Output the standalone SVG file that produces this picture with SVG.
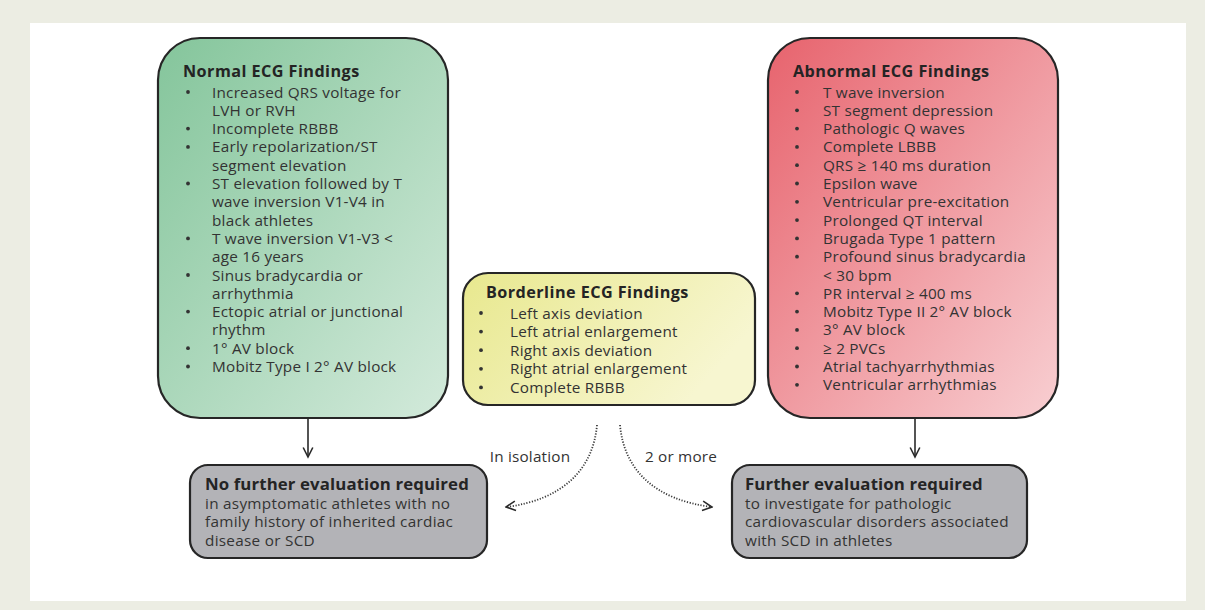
<svg xmlns="http://www.w3.org/2000/svg" width="1205" height="610" viewBox="0 0 1205 610">
  <defs>
    <linearGradient id="gGreen" x1="0" y1="0" x2="1" y2="1">
      <stop offset="0" stop-color="#84c59b"/>
      <stop offset="1" stop-color="#d3eadb"/>
    </linearGradient>
    <linearGradient id="gRed" x1="0" y1="0" x2="1" y2="1">
      <stop offset="0" stop-color="#e7636d"/>
      <stop offset="1" stop-color="#f8cfd2"/>
    </linearGradient>
    <linearGradient id="gYellow" x1="0" y1="0" x2="1" y2="0.4">
      <stop offset="0" stop-color="#e8e88e"/>
      <stop offset="1" stop-color="#f7f6d0"/>
    </linearGradient>
    <marker id="chev" viewBox="0 0 12 12" refX="10.5" refY="6" markerWidth="12" markerHeight="12" markerUnits="userSpaceOnUse" orient="auto">
      <path d="M1,1.2 L10.5,6 L1,10.8" fill="none" stroke="#2a2a2a" stroke-width="1.6"/>
    </marker>
  </defs>
  <style>
    .box { stroke: #262626; stroke-width: 2.2; }
    .ttl { font-family: "Open Sans", "Liberation Sans", sans-serif; font-weight: 700; font-size: 16.2px; letter-spacing: 0.45px; fill: #242424; }
    .txt { font-family: "Open Sans", "Liberation Sans", sans-serif; font-size: 15.3px; letter-spacing: 0.22px; fill: #333333; }
    .gtxt { font-family: "Open Sans", "Liberation Sans", sans-serif; font-size: 15.3px; letter-spacing: 0.28px; fill: #333333; }
    .gttl { font-family: "Open Sans", "Liberation Sans", sans-serif; font-weight: 700; font-size: 16.8px; letter-spacing: 0.12px; fill: #242424; }
    .lbl { font-family: "Open Sans", "Liberation Sans", sans-serif; font-size: 15.3px; letter-spacing: 0.2px; fill: #333333; }
    .dot { fill: #333333; }
    .solid { fill: none; stroke: #2a2a2a; stroke-width: 1.6; }
    .dotted { fill: none; stroke: #3a3a3a; stroke-width: 1.8; stroke-dasharray: 1.2 1.6; }
  </style>

  <!-- page frame -->
  <rect x="0" y="0" width="1205" height="610" fill="#ecede3"/>
  <rect x="30" y="23" width="1156" height="578" fill="#ffffff"/>

  <!-- normal findings -->
  <g id="normal">
    <rect class="box" x="158" y="38" width="290" height="380" rx="42" fill="url(#gGreen)"/>
    <text class="ttl" x="183" y="77">Normal ECG Findings</text>
    <g class="dot">
      <circle cx="188" cy="92" r="1.9"/>
      <circle cx="188" cy="128.6" r="1.9"/>
      <circle cx="188" cy="146.9" r="1.9"/>
      <circle cx="188" cy="183.5" r="1.9"/>
      <circle cx="188" cy="238.4" r="1.9"/>
      <circle cx="188" cy="275" r="1.9"/>
      <circle cx="188" cy="311.6" r="1.9"/>
      <circle cx="188" cy="348.2" r="1.9"/>
      <circle cx="188" cy="366.5" r="1.9"/>
    </g>
    <text class="txt" x="212" y="97.5">
      <tspan x="212">Increased QRS voltage for</tspan>
      <tspan x="212" dy="18.3">LVH or RVH</tspan>
      <tspan x="212" dy="18.3">Incomplete RBBB</tspan>
      <tspan x="212" dy="18.3">Early repolarization/ST</tspan>
      <tspan x="212" dy="18.3">segment elevation</tspan>
      <tspan x="212" dy="18.3">ST elevation followed by T</tspan>
      <tspan x="212" dy="18.3">wave inversion V1-V4 in</tspan>
      <tspan x="212" dy="18.3">black athletes</tspan>
      <tspan x="212" dy="18.3">T wave inversion V1-V3 &lt;</tspan>
      <tspan x="212" dy="18.3">age 16 years</tspan>
      <tspan x="212" dy="18.3">Sinus bradycardia or</tspan>
      <tspan x="212" dy="18.3">arrhythmia</tspan>
      <tspan x="212" dy="18.3">Ectopic atrial or junctional</tspan>
      <tspan x="212" dy="18.3">rhythm</tspan>
      <tspan x="212" dy="18.3">1° AV block</tspan>
      <tspan x="212" dy="18.3">Mobitz Type I 2° AV block</tspan>
    </text>
  </g>

  <!-- borderline findings -->
  <g id="borderline">
    <rect class="box" x="463" y="273" width="292" height="132" rx="25" fill="url(#gYellow)"/>
    <text class="ttl" x="486" y="298">Borderline ECG Findings</text>
    <g class="dot">
      <circle cx="481" cy="313" r="1.9"/>
      <circle cx="481" cy="331.6" r="1.9"/>
      <circle cx="481" cy="350.2" r="1.9"/>
      <circle cx="481" cy="368.8" r="1.9"/>
      <circle cx="481" cy="387.4" r="1.9"/>
    </g>
    <text class="txt" x="510" y="318.5">
      <tspan x="510">Left axis deviation</tspan>
      <tspan x="510" dy="18.6">Left atrial enlargement</tspan>
      <tspan x="510" dy="18.6">Right axis deviation</tspan>
      <tspan x="510" dy="18.6">Right atrial enlargement</tspan>
      <tspan x="510" dy="18.6">Complete RBBB</tspan>
    </text>
  </g>

  <!-- abnormal findings -->
  <g id="abnormal">
    <rect class="box" x="768" y="38" width="290" height="380" rx="42" fill="url(#gRed)"/>
    <text class="ttl" x="793" y="77">Abnormal ECG Findings</text>
    <g class="dot">
      <circle cx="797" cy="92" r="1.9"/>
      <circle cx="797" cy="110.3" r="1.9"/>
      <circle cx="797" cy="128.6" r="1.9"/>
      <circle cx="797" cy="146.9" r="1.9"/>
      <circle cx="797" cy="165.2" r="1.9"/>
      <circle cx="797" cy="183.5" r="1.9"/>
      <circle cx="797" cy="201.8" r="1.9"/>
      <circle cx="797" cy="220.1" r="1.9"/>
      <circle cx="797" cy="238.4" r="1.9"/>
      <circle cx="797" cy="256.7" r="1.9"/>
      <circle cx="797" cy="293.3" r="1.9"/>
      <circle cx="797" cy="311.6" r="1.9"/>
      <circle cx="797" cy="329.9" r="1.9"/>
      <circle cx="797" cy="348.2" r="1.9"/>
      <circle cx="797" cy="366.5" r="1.9"/>
      <circle cx="797" cy="384.8" r="1.9"/>
    </g>
    <text class="txt" x="823" y="97.5">
      <tspan x="823">T wave inversion</tspan>
      <tspan x="823" dy="18.3">ST segment depression</tspan>
      <tspan x="823" dy="18.3">Pathologic Q waves</tspan>
      <tspan x="823" dy="18.3">Complete LBBB</tspan>
      <tspan x="823" dy="18.3">QRS ≥ 140 ms duration</tspan>
      <tspan x="823" dy="18.3">Epsilon wave</tspan>
      <tspan x="823" dy="18.3">Ventricular pre-excitation</tspan>
      <tspan x="823" dy="18.3">Prolonged QT interval</tspan>
      <tspan x="823" dy="18.3">Brugada Type 1 pattern</tspan>
      <tspan x="823" dy="18.3">Profound sinus bradycardia</tspan>
      <tspan x="823" dy="18.3">&lt; 30 bpm</tspan>
      <tspan x="823" dy="18.3">PR interval ≥ 400 ms</tspan>
      <tspan x="823" dy="18.3">Mobitz Type II 2° AV block</tspan>
      <tspan x="823" dy="18.3">3° AV block</tspan>
      <tspan x="823" dy="18.3">≥ 2  PVCs</tspan>
      <tspan x="823" dy="18.3">Atrial tachyarrhythmias</tspan>
      <tspan x="823" dy="18.3">Ventricular arrhythmias</tspan>
    </text>
  </g>

  <!-- outcome: no further evaluation -->
  <g id="no-further">
    <rect class="box" x="190" y="465" width="297" height="93" rx="18" fill="#b3b3b7"/>
    <text class="gttl" x="205" y="490">No further evaluation required</text>
    <text class="gtxt" x="205" y="509">
      <tspan x="205">in asymptomatic athletes with no</tspan>
      <tspan x="205" dy="18.4">family history of inherited cardiac</tspan>
      <tspan x="205" dy="18.4">disease or SCD</tspan>
    </text>
  </g>

  <!-- outcome: further evaluation -->
  <g id="further">
    <rect class="box" x="732" y="465" width="295" height="93" rx="18" fill="#b3b3b7"/>
    <text class="gttl" x="745" y="490">Further evaluation required</text>
    <text class="gtxt" x="745" y="509">
      <tspan x="745">to investigate for pathologic</tspan>
      <tspan x="745" dy="18.4">cardiovascular disorders associated</tspan>
      <tspan x="745" dy="18.4">with SCD in athletes</tspan>
    </text>
  </g>

  <!-- connectors -->
  <g id="connectors">
    <path class="solid" d="M308,419 L308,457" marker-end="url(#chev)"/>
    <path class="solid" d="M915,419 L915,457" marker-end="url(#chev)"/>
    <path class="dotted" d="M597,425 C593,470 562,500 506,507" marker-end="url(#chev)"/>
    <path class="dotted" d="M620,425 C624,470 655,500 712,507" marker-end="url(#chev)"/>
    <text class="lbl" x="530" y="462" text-anchor="middle">In isolation</text>
    <text class="lbl" x="681" y="462" text-anchor="middle">2 or more</text>
  </g>
</svg>
